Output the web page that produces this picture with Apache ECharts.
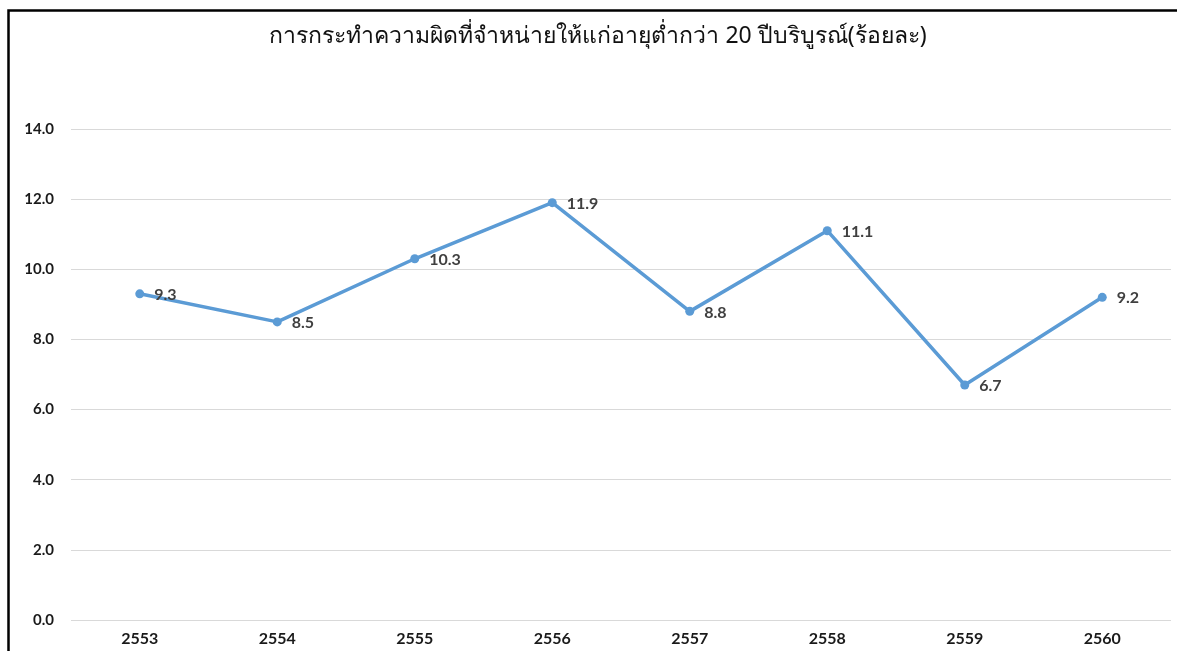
<!DOCTYPE html>
<html><head><meta charset="utf-8">
<script src="https://cdn.jsdelivr.net/npm/echarts@6/dist/echarts.min.js"></script>
<style>html,body{margin:0;padding:0;background:#fff}#c{width:1177px;height:651px}</style>
</head><body><div id="c"></div>
<script>
const titleText = 'การกระทำความผิดที่จำหน่ายให้แก่อายุต่ำกว่า 20 ปีบริบูรณ์(ร้อยละ)';
const categories = ['2553','2554','2555','2556','2557','2558','2559','2560'];
const values = [9.3, 8.5, 10.3, 11.9, 8.8, 11.1, 6.7, 9.2];
const yMin = 0, yMax = 14, yStep = 2;

const chart = echarts.init(document.getElementById('c'), null, {renderer:'canvas'});
chart.setOption({
  animation:false,
  backgroundColor:'#fff',
  textStyle:{fontFamily:'Lato, "Noto Sans", "DejaVu Sans", sans-serif'},
  title:{
    text:titleText, left:593, top:20, textAlign:'center',
    textStyle:{fontSize:23, fontWeight:'normal', color:'#111', fontFamily:'"Noto Sans", "DejaVu Sans", sans-serif'}
  },
  graphic:[{type:'rect', shape:{x:8.5, y:10.5, width:1200, height:700}, style:{fill:'none', stroke:'#000', lineWidth:2.5}, silent:true}],
  grid:{left:71, right:6, top:129, bottom:31},
  xAxis:{
    type:'category', data:categories, boundaryGap:true,
    axisLine:{show:false}, axisTick:{show:false},
    axisLabel:{fontSize:16, fontWeight:'bold', color:'#1a1a1a', margin:11}
  },
  yAxis:{
    type:'value', min:yMin, max:yMax, interval:yStep,
    axisLine:{show:false}, axisTick:{show:false},
    splitLine:{lineStyle:{color:'#d9d9d9', width:1}},
    axisLabel:{fontSize:15, fontWeight:'bold', color:'#1a1a1a', margin:17, formatter:v=>v.toFixed(1)}
  },
  series:[{
    type:'line', data:values,
    symbol:'circle', symbolSize:9,
    lineStyle:{color:'#5b9bd5', width:3.5},
    itemStyle:{color:'#5b9bd5'},
    label:{show:true, position:'right', distance:10, fontSize:16, fontWeight:'bold', color:'#404040', formatter:p=>p.value.toFixed(1), offset:[0,1]}
  }]
});
</script></body></html>
